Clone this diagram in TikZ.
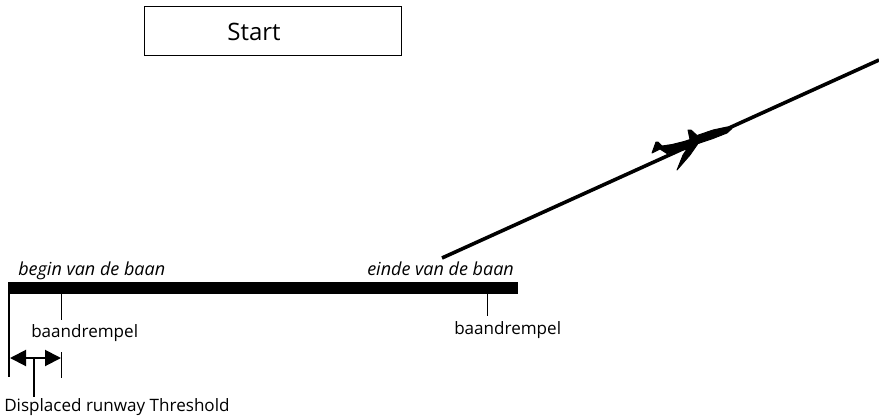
\documentclass[tikz,border=0pt]{standalone}
\usepackage{fontspec}
\setmainfont{Open Sans}
\usetikzlibrary{arrows.meta}
\usetikzlibrary{calc}
\begin{document}
\begin{tikzpicture}[x=0.75pt,y=-0.75pt,
                        label/.style={inner sep=0pt, font=\fontsize{12.8pt}{14pt}\selectfont},
                        endlabel/.style={label, font=\fontsize{13.5pt}{14pt}\itshape},
                        tick/.style={draw, line width=0.6pt},
                        doublearrow/.style={draw, line width=1.5pt, {Triangle[length=12pt,width=12pt]}-{Triangle[length=12pt,width=12pt]}}]
            \useasboundingbox (0,0) rectangle (879,419);

            \node[draw, line width=1pt, minimum width=193pt, minimum height=36.5pt, inner sep=0pt] (start) at (273,31) {};
            \node[inner sep=0pt, font=\fontsize{18pt}{20pt}\selectfont] (starttext) at (254,32) {Start};

            % runway
            \node[fill=black, minimum width=382.5pt, minimum height=9pt, inner sep=0pt] (runway) at (263,288) {};
            \fill (391,282.5) arc[start angle=180, end angle=0, radius=5];

            \node[endlabel, anchor=base west] (begin) at (18,275) {begin van de baan};
            \node[endlabel, anchor=base west] (einde) at (367,275) {einde van de baan};
            \node[label, anchor=base west] (thresholda) at (31,337) {baandrempel};
            \node[label, anchor=base west] (thresholdb) at (454,334) {baandrempel};
            \node[label, anchor=base west] (displaced) at (4,411) {Displaced runway Threshold};

            \coordinate (leftend) at (9,377);
            \coordinate (lefttop) at (9,293);
            \coordinate (ticka) at (61,293);
            \coordinate (tickaend) at (61,320);
            \coordinate (tickc) at (61,352);
            \coordinate (tickcend) at (61,378);
            \coordinate (tickb) at (487,293);
            \coordinate (tickbend) at (487,316);
            \coordinate (arrowleft) at (10,358);
            \coordinate (arrowright) at (61,358);
            \coordinate (arrowmid) at (34,358);
            \coordinate (displacedtop) at (34,397);
            \coordinate (glidea) at (442,258);
            \coordinate (glideb) at (879,60);

            \draw[line width=1.5pt] (lefttop) -- (leftend);
            \draw[tick] (ticka) -- (tickaend);
            \draw[tick] (tickc) -- (tickcend);
            \draw[tick] (tickb) -- (tickbend);
            \draw[doublearrow] (arrowleft) -- (arrowright);
            \draw[line width=0.8pt] (arrowmid) -- (displacedtop);
            \draw[line width=2.7pt] (glidea) -- (glideb);

            % plane
            \filldraw[line width=0.7pt, line join=round] (652,153) -- (656,142) -- (658,142) -- (662,146) -- (672,144.5) -- (684,141.5) -- (690,139.5)
                -- (688,130) -- (691,130) -- (697,135.5) -- (713,130) -- (727,127) -- (732,128.5) -- (727,133)
                -- (713,138.5) -- (698,143.5) -- (690,155) -- (677,170) -- (683,155) -- (687,149)
                -- (675,152) -- (667,153.5) -- (660,149) -- cycle;
        \end{tikzpicture}
\end{document}
